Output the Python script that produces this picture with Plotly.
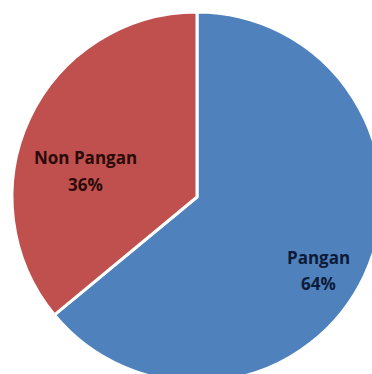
import plotly.graph_objects as go

labels = ["Pangan", "Non Pangan"]
values = [64, 36]
colors = ["#4F81BD", "#C0504D"]
text_colors = ["#0d1b38", "#2a0a0a"]
# label centres in figure pixels (x, y of the name line, y of the percent line)
label_pos = [(318, 257, 283), (85, 157, 184)]

W, H = 400, 400
cx, cy, r = 197, 197, 185

fig = go.Figure(go.Pie(
    labels=labels,
    values=values,
    sort=False,
    direction="clockwise",
    rotation=0,
    marker=dict(colors=colors, line=dict(color="white", width=3)),
    textinfo="none",
    domain=dict(x=[(cx - r) / W, (cx + r) / W], y=[1 - (cy + r) / H, 1 - (cy - r) / H]),
    hoverinfo="skip",
))

total = sum(values)
for lab, val, col, (px, py1, py2) in zip(labels, values, text_colors, label_pos):
    for txt, py in ((lab, py1), (f"{round(100 * val / total)}%", py2)):
        fig.add_annotation(
            x=px / W, y=1 - py / H, xref="paper", yref="paper",
            text=f"<b>{txt}</b>", showarrow=False,
            xanchor="center", yanchor="middle",
            font=dict(family="Open Sans", size=17, color=col),
        )

fig.update_layout(
    width=W, height=H,
    margin=dict(l=0, r=0, t=0, b=0),
    showlegend=False,
    paper_bgcolor="white",
)

fig.write_html("out.html", config={"displayModeBar": False},
               post_script="document.body.style.overflow='hidden';document.body.style.margin='0';")
